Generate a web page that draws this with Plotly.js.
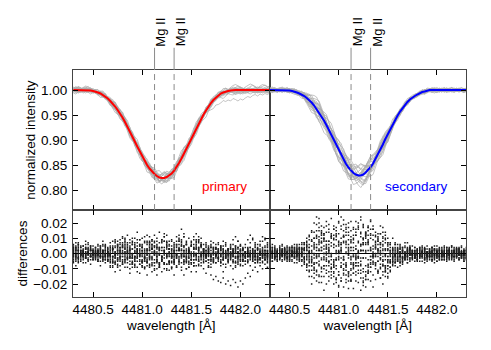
<!DOCTYPE html>
<html><head><meta charset="utf-8">
<script src="https://cdn.plot.ly/plotly-3.0.1.min.js"></script>
<style>html,body{margin:0;padding:0;background:#fff}#chart{width:491px;height:350px}</style>
</head><body><div id="chart"></div>
<script>
// wavelength grid [Å]
const wavelength = [
4480.300,4480.325,4480.350,4480.375,4480.400,4480.425,4480.450,4480.475,4480.500,4480.525,
4480.550,4480.575,4480.600,4480.625,4480.650,4480.675,4480.700,4480.725,4480.750,4480.775,
4480.800,4480.825,4480.850,4480.875,4480.900,4480.925,4480.950,4480.975,4481.000,4481.025,
4481.050,4481.075,4481.100,4481.125,4481.150,4481.175,4481.200,4481.225,4481.250,4481.275,
4481.300,4481.325,4481.350,4481.375,4481.400,4481.425,4481.450,4481.475,4481.500,4481.525,
4481.550,4481.575,4481.600,4481.625,4481.650,4481.675,4481.700,4481.725,4481.750,4481.775,
4481.800,4481.825,4481.850,4481.875,4481.900,4481.925,4481.950,4481.975,4482.000,4482.025,
4482.050,4482.075,4482.100,4482.125,4482.150,4482.175,4482.200,4482.225,4482.250,4482.275,4482.300];

// model profiles (normalized intensity)
const primaryModel = [
1.000,1.000,1.000,1.000,1.000,1.000,1.000,0.999,0.998,0.997,
0.995,0.993,0.990,0.987,0.983,0.978,0.973,0.967,0.960,0.953,
0.945,0.936,0.927,0.917,0.907,0.897,0.887,0.877,0.867,0.858,
0.850,0.843,0.837,0.832,0.828,0.825,0.824,0.824,0.826,0.829,
0.833,0.839,0.846,0.854,0.863,0.873,0.883,0.893,0.903,0.913,
0.923,0.933,0.942,0.951,0.959,0.967,0.974,0.980,0.985,0.989,
0.993,0.995,0.997,0.998,0.999,1.000,1.000,1.000,1.000,1.000,
1.000,1.000,1.000,1.000,1.000,1.000,1.000,1.000,1.000,1.000,1.000];

const secondaryModel = [
1.000,1.000,1.000,1.000,1.000,1.000,1.000,1.000,0.999,0.998,
0.997,0.995,0.993,0.991,0.988,0.984,0.980,0.975,0.969,0.962,
0.955,0.947,0.939,0.930,0.920,0.910,0.900,0.889,0.879,0.869,
0.860,0.852,0.845,0.839,0.834,0.831,0.829,0.829,0.831,0.835,
0.840,0.846,0.853,0.862,0.871,0.881,0.891,0.902,0.912,0.922,
0.932,0.941,0.949,0.957,0.964,0.970,0.976,0.981,0.985,0.988,
0.991,0.994,0.996,0.997,0.999,1.000,1.000,1.000,1.000,1.000,
1.000,1.000,1.000,1.000,1.000,1.000,1.000,1.000,1.000,1.000,1.000];

// differences (observed - model) for each observed spectrum, in units of 0.001
const primaryDiffMilli = [
[2,-1,3,0,-2,1,4,2,-1,-3, 0,2,5,3,-1,-4,-2,1,6,3, -2,-6,-3,2,7,4,-1,-5,-8,-3, 2,6,9,4,-2,-7,-4,1,5,8, 3,-3,-9,-5,0,4,7,2,-4,-6, -1,3,5,1,-3,-2,2,4,0,-3, -5,-2,1,3,0,-4,-6,-2,2,4, 1,-2,0,3,5,2,-1,-3,0,2,1],
[-4,-2,0,-3,-6,-3,1,-1,-4,-2, 1,4,2,-2,-5,-1,3,7,4,-1, -4,0,5,9,6,1,-3,-7,-4,2, 8,11,6,0,-5,-9,-12,-6,0,5, 9,5,-1,-6,-3,2,6,10,5,-1, -4,-7,-3,1,4,2,-2,-5,-1,3, 5,2,-1,-4,-2,1,3,0,-3,-5, -2,1,4,2,-1,-4,-6,-3,0,-2,-4],
[5,3,6,2,0,3,1,-2,0,3, 5,2,-1,-4,0,3,-2,-6,-9,-5, 0,4,1,-3,-7,-2,3,6,10,7, 2,-3,-8,-11,-6,-1,4,8,12,6, 1,-4,-8,-3,2,-1,-5,-9,-6,-1, 3,-2,-6,-10,-13,-9,-14,-17,-15,-18, -19,-16,-20,-18,-21,-17,-19,-22,-18,-20, -16,-13,-15,-11,-9,-12,-8,-10,-7,-9,-6],
[-1,-5,-3,0,2,-1,-4,-7,-3,0, -3,-1,2,6,3,0,4,8,5,1, 4,9,12,7,3,-2,1,5,2,-3, -6,-2,3,7,4,-1,-5,-10,-7,-2, 2,7,11,8,3,-2,-6,-3,1,6, 9,4,0,-3,1,5,8,4,1,-2, 2,5,7,3,0,-2,1,4,6,3, 0,3,7,9,6,3,5,8,10,7,5],
[3,7,4,1,5,8,6,2,-1,1, -2,-5,-3,0,-4,-8,-5,-1,2,-2, -6,-9,-4,0,-3,-8,-12,-7,-2,3, 6,2,-3,-6,-1,4,9,13,8,3, -2,-6,-1,3,8,5,1,-3,-7,-4, 0,4,1,-2,-5,-8,-4,0,3,-1, -4,-7,-3,0,-2,-5,-8,-5,-2,-4, -7,-5,-2,0,-3,-6,-4,-1,2,-1,-3],
[0,-3,1,4,1,-2,0,3,5,2, -1,3,6,2,-2,-6,-9,-5,-1,4, 7,3,-2,-5,0,5,9,6,2,-3, -8,-4,1,5,10,14,9,4,-1,-5, -10,-14,-9,-4,0,5,3,-2,-6,-2, 3,7,10,6,2,-1,-4,0,4,7, 4,1,-2,-5,-1,2,5,8,5,2, 6,9,12,10,7,4,8,11,9,6,8],
[-6,-8,-4,-1,-3,-6,-3,0,2,-1, -4,-2,1,-1,-4,-1,3,0,-4,-8, -5,-1,2,-2,-6,-3,2,-1,-5,-9, -6,-2,3,0,-4,-8,-3,2,6,3, -1,-5,-2,3,7,11,6,2,-2,1, 5,9,6,2,-1,-4,-1,3,6,3, -1,-4,-7,-5,-8,-10,-6,-3,-5,-8, -5,-2,-4,-1,2,0,-3,-5,-2,-4,-7],
[1,4,2,-1,1,3,0,-2,1,4, 6,3,0,-3,1,5,8,4,0,-3, 1,5,2,-2,-5,-9,-5,0,4,8, 12,7,3,-1,3,7,2,-3,-7,-11, -6,-2,2,6,2,-2,-5,-9,-12,-8, -3,1,-2,-5,-2,2,5,2,-1,1, 3,0,-2,-4,-1,1,3,1,-2,-4, -1,2,4,1,-2,-5,-3,0,2,4,2],
[4,1,-2,0,3,6,3,0,-3,-1, 2,0,-3,-6,-3,1,-2,-6,-3,2, 6,10,6,2,-2,2,7,3,-1,-5, -1,4,8,12,8,3,-2,-6,-2,3, 8,4,-1,-5,-9,-14,-10,-5,0,4, 8,11,7,3,-1,-4,-2,1,-1,-4, -6,-3,0,2,4,1,-2,-4,-7,-4, -1,2,-1,-3,-6,-3,1,3,5,2,-1],
[-2,0,-3,-5,-2,1,-1,-4,-2,1, 3,1,-2,1,4,7,3,-1,-5,-2, 2,-2,-6,-10,-6,-2,3,-1,-5,-2, 3,8,5,1,-3,-7,-3,1,-2,-6, -3,1,5,9,5,0,-4,1,5,3, -1,-5,-8,-4,0,3,-1,-4,-1,2, 5,8,6,3,6,9,11,8,5,3, 1,-2,0,3,1,-2,-4,-1,2,5,3],
[6,4,7,5,2,4,7,4,1,-1, 1,-2,-4,-1,3,0,-3,1,5,9, 5,1,-3,1,6,10,14,9,4,-1, -5,-1,-6,-10,-14,-9,-4,0,5,1, -3,-7,-3,2,-2,-6,-10,-6,-1,3, 7,3,-1,2,5,1,-2,-5,-2,1, -1,-4,-2,1,3,0,-3,-1,2,0, -2,-5,-2,1,-1,-4,-1,2,4,1,-2],
[-3,0,2,-1,-4,-2,1,3,0,-2, -5,-8,-4,0,-2,-5,-8,-12,-8,-4, 0,3,7,3,-1,-5,-2,2,6,11, 7,2,-2,-6,-10,-6,-2,2,-2,-5, -9,-4,0,4,9,13,8,3,-1,-4, -8,-5,-1,3,7,4,0,-3,-6,-3, 0,3,5,2,-1,2,5,3,0,-2, 1,3,0,-2,-4,-2,1,-1,-3,-5,-2],
[2,-2,-5,-2,1,-1,2,5,2,0, 2,5,8,5,1,-2,-6,-3,2,6, 10,6,1,-3,-7,-3,1,-2,-6,-10, -14,-9,-4,1,6,2,-2,-7,-11,-7, -2,3,8,12,16,11,6,1,-4,-8, -4,0,4,-1,-5,-9,-5,-1,3,6, 3,0,-3,0,3,6,4,1,-1,2, 4,1,-1,-4,-6,-3,0,2,-1,-3,0],
[-1,2,5,2,-1,-3,0,2,-1,-4, -1,1,-2,-4,-1,2,5,9,6,2, -2,-5,-9,-13,-9,-4,1,5,1,-3, 1,5,9,5,1,4,8,11,7,3, -2,-6,-2,2,-2,-5,-1,3,7,11, 6,2,-2,-6,-3,1,4,1,-2,-5, -8,-12,-9,-6,-3,-6,-9,-7,-4,-1, -3,-6,-8,-5,-2,-4,-1,1,-1,-3,-1],
[3,5,2,0,-2,0,3,5,3,1, -1,-3,0,2,-1,-3,-6,-2,1,-3, -7,-4,0,4,8,4,0,-4,-8,-4, 0,-3,-7,-4,0,3,7,11,7,3, -1,2,6,3,-1,-5,-2,2,5,9, 13,9,5,1,-2,-6,-9,-6,-3,0, 2,-1,-3,-1,1,-2,-5,-3,-1,-3, -5,-2,0,2,4,6,3,1,-1,1,3],
[-5,-3,-6,-4,-1,-3,-5,-2,0,2, 0,-2,1,4,1,-2,2,5,8,4, 0,-4,-1,3,-1,-5,-9,-13,-9,-5, -1,3,6,2,-2,-6,-2,2,-1,-5, -9,-5,-1,2,-1,-4,0,4,8,4, 0,-3,0,3,-1,-4,-7,-4,-1,2, 4,1,-1,-3,0,3,1,-2,-4,-1, 1,4,2,-1,1,3,6,4,1,-2,0],
[1,-1,-3,-1,2,4,1,-1,2,4, 1,-2,-5,-2,1,4,1,-3,-7,-11, -7,-3,1,5,10,6,2,-2,-6,-2, 3,7,3,-1,-5,-9,-5,-1,3,-1, -5,-1,4,8,5,1,-3,-7,-4,0, 4,8,5,1,-2,1,4,7,4,1, -2,0,2,-1,-3,-5,-2,1,3,0, -2,-4,-2,0,2,-1,-3,-6,-4,-1,1],
[0,3,6,4,1,-1,-4,-2,0,-2, -4,-1,2,5,2,-1,-4,-7,-4,0, 4,8,4,0,-3,-7,-3,1,4,0, -4,-8,-12,-8,-4,0,4,8,4,0, 3,6,2,-2,-6,-2,2,-1,-4,-8, -12,-8,-4,-1,2,-1,-3,0,3,1, -2,-4,-1,2,5,3,0,-2,1,3, 1,-1,-3,-5,-2,0,2,-1,-3,-1,1],
[-2,-4,-1,1,-1,-3,-1,2,0,-3, -5,-2,1,-2,-5,-9,-5,-1,3,7, 11,7,3,-1,3,7,3,-1,-5,-9, -5,0,4,8,4,0,-4,-7,-3,1, 5,1,-3,-7,-11,-7,-3,1,-3,-6, -2,2,6,2,-1,3,6,3,0,-3, -6,-3,0,3,1,-1,-3,-6,-8,-5, -2,1,-1,-3,0,3,1,-2,-4,-2,0],
[4,2,0,2,5,3,0,-2,-4,-1, 2,5,2,-1,-4,-1,3,0,-3,1, 5,1,-3,-7,-3,1,5,9,5,1, -3,-7,-3,1,5,2,-2,-6,-10,-6, -2,2,6,10,6,2,-2,2,6,3, -1,-4,-1,3,6,3,0,-3,-6,-3, 0,3,1,-2,-4,-1,2,4,2,-1, -3,-1,1,-2,-4,-2,0,-2,-4,-6,-3]
];

const secondaryDiffMilli = [
[2,4,1,-2,0,3,1,-2,-4,-1, 1,-2,-4,-1,2,5,9,14,10,6, 2,-3,-8,-13,-18,-14,-9,-4,1,6, 11,16,20,15,10,5,0,-5,-10,-15, -11,-6,-1,4,9,13,8,3,-2,-6, -3,1,-2,-5,-2,1,3,0,-3,-1, 2,4,1,-1,-4,-2,1,3,0,-2, -4,-1,2,4,1,-2,0,3,1,-1,2],
[-3,-1,2,0,-3,-5,-2,1,3,0, -2,1,4,1,-3,-7,-12,-8,-3,2, 7,12,17,21,16,11,6,1,-4,-9, -14,-19,-23,-18,-13,-8,-3,2,7,12, 17,21,16,11,6,1,-4,-8,-4,0, 3,-1,-4,-1,2,5,2,-1,-3,0, 3,1,-2,-4,-1,1,-2,-4,-1,2, 4,1,-1,2,5,2,-1,-3,-1,1,-2],
[5,2,-1,1,4,6,3,0,-2,1, 4,2,-1,-4,0,5,1,-4,-9,-14, -19,-15,-10,-5,0,5,10,15,20,24, 19,14,9,4,-1,-6,-11,-16,-21,-17, -12,-7,-2,3,8,13,17,12,7,2, -2,-5,-2,1,4,1,-2,-5,-2,1, -1,-3,0,2,5,3,0,-2,-5,-3, 0,2,-1,-3,-1,2,4,1,-1,2,4],
[-1,1,-2,-4,-1,2,4,1,-1,-4, -6,-3,0,3,6,10,6,2,7,12, 17,13,8,3,-2,-7,-12,-17,-22,-18, -13,-8,-3,2,7,12,17,22,18,13, 8,3,-2,-7,-12,-16,-12,-8,-4,0, 4,7,4,1,-2,-4,-1,2,-1,-3, -5,-2,0,3,1,-1,-4,-1,1,3, 0,-2,-5,-3,0,2,-1,-3,-1,1,-1],
[3,0,-3,-1,2,0,-3,-5,-3,0, 2,5,3,0,-3,-7,-11,-15,-11,-6, -1,4,9,14,19,23,18,13,8,3, -2,-7,-12,-17,-13,-8,-3,2,7,11, 15,10,5,0,-5,-10,-14,-10,-6,-2, 2,6,3,0,-3,-1,2,5,2,-1, -3,0,3,1,-2,-4,-2,1,3,1, -2,-4,-1,2,0,-2,1,3,5,2,0],
[-4,-2,1,3,1,-2,-4,-1,2,4, 1,-1,-3,0,4,8,12,8,4,-1, -5,-10,-15,-11,-6,-1,4,9,13,18, 22,17,12,7,2,-3,-8,-13,-18,-22, -17,-12,-7,-2,3,7,11,7,3,-1, -5,-8,-5,-2,1,-1,-3,0,2,4, 2,-1,-3,-6,-3,0,2,0,-2,-4, -2,0,3,1,-1,-4,-2,0,2,0,-3],
[1,3,5,2,0,-2,1,3,1,-1, -3,-6,-3,1,-3,-8,-4,1,6,11, 15,10,5,0,-5,-10,-15,-19,-14,-9, -4,1,6,11,16,21,16,11,6,1, -4,-9,-14,-10,-5,0,5,9,5,1, -3,-6,-3,1,4,7,4,1,-1,-3, 0,3,5,2,-1,1,4,2,-1,-3, -1,1,-2,-4,-2,1,3,1,-1,-3,-1],
[-2,-5,-3,0,2,-1,-3,0,3,5, 3,0,-2,2,6,2,-3,-8,-13,-18, -14,-9,-4,1,6,11,16,12,7,2, -3,-8,-13,-18,-23,-18,-13,-8,-3,2, 7,12,16,12,8,4,0,-4,-8,-5, -1,2,-1,-4,-7,-4,-1,2,-1,-3, 0,2,-1,-3,-1,2,4,2,-1,1, 3,5,2,-1,-3,0,2,-1,-3,-5,-2],
[4,6,3,1,-1,1,3,0,-2,-5, -2,1,4,7,3,-1,4,9,14,19, 23,18,13,8,3,-2,-7,-3,2,7, 12,8,3,-2,-7,-12,-8,-3,2,7, 12,16,12,7,2,-3,-8,-12,-8,-4, 0,3,6,3,0,-3,-6,-3,0,2, -1,-3,-5,-2,1,3,1,-1,-3,-1, 2,4,1,-1,-3,-5,-2,0,-2,-4,-1],
[0,-2,-4,-2,1,3,0,-3,-1,2, 4,1,-2,-5,-2,2,-2,-6,-10,-6, -2,2,-3,-8,-12,-16,-20,-16,-12,-8, -4,0,4,8,12,16,20,24,19,14, 9,4,-1,-6,-11,-16,-20,-15,-10,-5, 0,4,1,-2,-5,-2,1,4,1,-1, 2,4,1,-1,-3,-1,2,0,-2,-4, -1,1,4,2,-1,1,3,0,-2,0,2],
[-5,-3,0,-2,-4,-1,2,0,-3,-1, 1,4,1,-2,-5,-9,-5,0,5,10, 6,2,-2,3,8,13,9,5,1,-3, -7,-11,-15,-11,-7,-3,1,5,9,13, 17,13,9,5,1,-3,-7,-11,-15,-11, -7,-3,0,3,0,-3,-6,-3,0,-2, -4,-1,1,3,0,-2,-4,-6,-3,-1, 1,-1,-3,0,2,0,-2,-4,-2,0,2],
[2,0,-2,1,3,5,2,0,2,4, 6,3,1,4,7,4,1,-3,-7,-11, -15,-19,-24,-20,-15,-10,-5,0,5,10, 15,19,14,9,4,-1,-6,-11,-16,-12, -7,-2,3,8,13,18,14,10,6,2, -2,-6,-9,-6,-3,0,3,0,-3,-5, -2,1,-1,-3,0,2,4,2,0,-2, 1,3,0,-2,-4,-2,1,3,1,-1,-3],
[-1,2,4,1,-2,-4,-2,1,4,2, -1,-4,-1,3,7,3,-1,-5,-1,4, 9,14,10,6,2,-2,-6,-10,-14,-18, -22,-17,-12,-7,-2,3,8,13,17,12, 7,2,-3,-8,-13,-9,-5,-1,3,7, 10,6,2,-1,-4,-1,2,-1,-4,-2, 1,3,0,-3,-5,-2,0,3,5,2, -1,-3,0,2,4,1,-2,-4,-1,1,3],
[3,1,-2,-4,-1,1,-1,-3,0,3, 1,-2,-5,-8,-4,0,4,8,3,-2, -7,-12,-8,-3,2,7,12,17,21,16, 11,6,1,-4,-9,-14,-19,-24,-19,-14, -9,-4,1,6,11,7,3,-1,-5,-9, -6,-2,1,4,2,-1,-4,-1,2,4, 1,-1,2,4,1,-2,-4,-1,1,-2, -4,-1,1,3,0,-2,0,2,4,2,0],
[-3,-5,-2,0,3,1,-1,2,4,1, -2,0,3,6,2,-2,-6,-11,-7,-3, 2,7,12,8,4,0,-4,-8,-3,2, 7,12,17,21,17,12,7,2,-3,-8, -13,-18,-22,-17,-12,-7,-2,3,7,4, 1,-2,-5,-8,-5,-2,1,3,1,-2, -4,-1,2,0,-2,1,3,5,2,0, -2,-4,-2,1,-1,-3,-1,2,0,-2,-4],
[1,-1,-3,-5,-2,1,3,5,2,-1, -3,-1,2,-2,-6,-3,1,5,10,15, 11,7,3,-1,-5,-9,-13,-17,-21,-16, -11,-6,-1,4,9,14,18,14,10,6, 2,-2,-6,-2,2,6,10,14,10,6, 2,-1,-4,-2,1,4,7,4,1,-1, -3,-5,-2,1,3,1,-1,-3,0,2, 0,-2,1,3,5,3,1,-1,-3,-1,1],
[-2,1,3,0,-3,-1,2,4,1,-2, 0,3,6,3,0,-4,-8,-4,0,4, 8,4,0,-4,-8,-12,-8,-4,0,4, 8,4,-1,-6,-2,3,-2,-7,-12,-17, -13,-9,-5,-1,3,-1,-5,-9,-13,-9, -5,-1,3,6,3,0,-2,1,-1,-3, -1,2,4,1,-1,-3,-5,-2,1,3, 1,-2,-4,-1,2,4,2,-1,-3,-5,-3],
[4,1,-1,-3,0,2,-1,-4,-2,1, 3,6,3,0,3,7,11,15,20,24, 20,15,10,5,1,-4,-9,-4,1,6, 11,7,2,-3,-8,-4,1,6,2,-3, -8,-4,0,4,0,-4,-8,-12,-16,-12, -8,-4,0,-3,-6,-3,0,3,5,2, 0,-2,1,3,1,-1,-3,-1,2,4, 2,-1,-3,-1,1,-1,-3,-1,1,3,1],
[-1,-3,0,2,5,2,-1,-3,-5,-2, 0,2,-1,-4,-7,-11,-15,-20,-16,-12, -8,-4,0,4,8,12,16,11,6,1, -4,-9,-14,-10,-6,-2,2,6,10,14, 18,22,18,14,10,6,2,-2,2,6, 3,0,-3,-6,-3,0,-2,-4,-1,1, 3,0,-2,-4,-2,1,-1,-3,-5,-2, 0,2,4,1,-2,0,2,4,1,-1,-3],
[2,4,2,-1,-3,-1,1,-2,-4,-1, 2,-1,-4,-1,3,6,2,-2,-6,-2, 3,8,13,18,14,10,6,2,-2,-6, -10,-14,-18,-14,-10,-6,-2,2,6,10, 6,2,-2,-6,-2,2,6,2,-2,-6, -4,-1,2,5,2,-1,1,3,0,-2, -4,-2,1,3,0,-2,1,3,1,-1, -3,-1,2,0,-2,1,3,1,-1,-3,-1]
];

const mgLines = [4481.126, 4481.325];
const mgLabel = 'Mg II';
const xTicks = [4480.5, 4481.0, 4481.5, 4482.0];
const yTicksTop = [0.80, 0.85, 0.90, 0.95, 1.00];
const yTicksDiff = [-0.02, -0.01, 0.00, 0.01, 0.02];
const xRange = [4480.296, 4482.296];
const yRangeTop = [0.76, 1.04];
const yRangeDiff = [-0.0285, 0.0285];
const panelNames = ['primary', 'secondary'];
const panelColors = ['#ff0000', '#0000ff'];

const FONT = 'Liberation Sans, Arial, Helvetica, sans-serif';
const traces = [];

function addPanel(model, diffs, xa, ya, xb, yb, color) {
  diffs.forEach(r => {
    traces.push({type:'scatter', mode:'lines', x: wavelength,
      y: r.map((d,i) => model[i] + d/1000), xaxis: xa, yaxis: ya,
      line:{color:'#ababab', width:0.7}, hoverinfo:'skip', showlegend:false});
  });
  traces.push({type:'scatter', mode:'lines', x: wavelength, y: model, xaxis: xa, yaxis: ya,
    line:{color: color, width:2}, hoverinfo:'skip', showlegend:false});
  const dx = [], dy = [];
  diffs.forEach(r => r.forEach((d,i) => { dx.push(wavelength[i]); dy.push(d/1000); }));
  traces.push({type:'scatter', mode:'markers', x: dx, y: dy, xaxis: xb, yaxis: yb,
    marker:{color:'#1a1a1a', size:1.5, symbol:'square', line:{width:0}}, hoverinfo:'skip', showlegend:false});
}
addPanel(primaryModel, primaryDiffMilli, 'x', 'y', 'x2', 'y2', panelColors[0]);
addPanel(secondaryModel, secondaryDiffMilli, 'x3', 'y3', 'x4', 'y4', panelColors[1]);

const axBase = {showline:true, linecolor:'#444', linewidth:1, mirror:'ticks', ticks:'inside',
  ticklen:5, tickwidth:1, tickcolor:'#000', showgrid:false, zeroline:false,
  tickfont:{family:FONT, size:13.5, color:'#000'}};
const split = 0.383;
const titleFont = {family:FONT, size:13.5, color:'#000'};

function xAx(dom, anchor, labels) {
  const a = Object.assign({}, axBase, {domain:dom, anchor:anchor, range:xRange,
    tickvals:xTicks, tickformat:'.1f', showticklabels:labels});
  if (labels) a.title = {text:'wavelength [Å]', font:titleFont, standoff:4};
  return a;
}
function yAx(dom, anchor, ticks, range, labels, title) {
  const a = Object.assign({}, axBase, {domain:dom, anchor:anchor, range:range,
    tickvals:ticks, tickformat:'.2f', showticklabels:labels, ticklabelstandoff:2});
  if (title) a.title = {text:title, font:titleFont, standoff:2};
  return a;
}

const shapes = [], annotations = [];
[['x','y'],['x3','y3']].forEach(([xr,yr]) => {
  mgLines.forEach(l => {
    shapes.push({type:'line', xref:xr, yref:yr, x0:l, x1:l, y0:yRangeTop[0], y1:yRangeTop[1],
      line:{color:'#8a8a8a', width:1, dash:'6px,4px'}});
    shapes.push({type:'line', xref:xr, yref:'paper', x0:l, x1:l, y0:1, y1:1.098,
      line:{color:'#8a8a8a', width:1}});
    annotations.push({xref:xr, yref:'paper', x:l, y:1.167, text:mgLabel, showarrow:false,
      textangle:-90, xshift:6, xanchor:'center', yanchor:'middle',
      font:{family:FONT, size:13, color:'#000'}});
  });
});
annotations.push({xref:'x', yref:'y', x:4481.834, y:0.807, text:panelNames[0], showarrow:false,
  font:{family:FONT, size:13.5, color:panelColors[0]}});
annotations.push({xref:'x3', yref:'y3', x:4481.793, y:0.807, text:panelNames[1], showarrow:false,
  font:{family:FONT, size:13.5, color:panelColors[1]}});

const layout = {
  width:491, height:350, paper_bgcolor:'#fff', plot_bgcolor:'#fff',
  margin:{l:73, r:25, t:70, b:53}, showlegend:false,
  font:{family:FONT, color:'#000'},
  xaxis: xAx([0,0.5],'y',false),
  xaxis2: xAx([0,0.5],'y2',true),
  xaxis3: xAx([0.5,1],'y3',false),
  xaxis4: xAx([0.5,1],'y4',true),
  yaxis: yAx([split,1],'x',yTicksTop,yRangeTop,true,'normalized intensity'),
  yaxis2: Object.assign(yAx([0,split],'x2',yTicksDiff,yRangeDiff,true,'differences'),
    {zeroline:true, zerolinecolor:'#000', zerolinewidth:1.5}),
  yaxis3: yAx([split,1],'x3',yTicksTop,yRangeTop,false,null),
  yaxis4: Object.assign(yAx([0,split],'x4',yTicksDiff,yRangeDiff,false,null),
    {zeroline:true, zerolinecolor:'#000', zerolinewidth:1.5}),
  shapes: shapes, annotations: annotations
};
Plotly.newPlot('chart', traces, layout, {displayModeBar:false, staticPlot:true});
</script></body></html>
